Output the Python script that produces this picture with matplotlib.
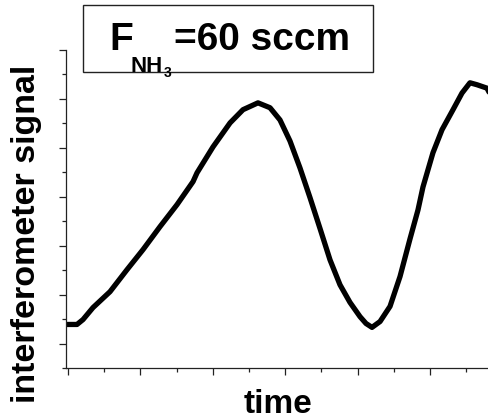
import matplotlib
matplotlib.use("Agg")
import matplotlib.pyplot as plt
from matplotlib.patches import Rectangle
from matplotlib.ticker import MultipleLocator, NullFormatter

plt.rcParams['font.family'] = ['Liberation Sans', 'DejaVu Sans']

# interferometer trace (arbitrary units)
time = [-0.028, 0.124, 0.207, 0.345, 0.58, 0.815, 1.036, 1.271, 1.506, 1.727,
        1.782, 2.003, 2.238, 2.417, 2.624, 2.79, 2.928, 3.066, 3.204, 3.343,
        3.481, 3.619, 3.757, 3.895, 4.033, 4.116, 4.199, 4.31, 4.448, 4.586,
        4.724, 4.834, 4.903, 5.041, 5.166, 5.318, 5.442, 5.552, 5.649, 5.787,
        5.815]
signal = [0.39, 0.39, 0.49, 0.735, 1.06, 1.51, 1.92, 2.39, 2.84, 3.31,
          3.49, 4.02, 4.51, 4.78, 4.92, 4.82, 4.57, 4.14, 3.59, 2.98,
          2.35, 1.71, 1.20, 0.84, 0.55, 0.41, 0.33, 0.45, 0.76, 1.37,
          2.14, 2.73, 3.2, 3.9, 4.37, 4.78, 5.12, 5.33, 5.29, 5.22,
          5.14]

W, H = 489, 419
fig = plt.figure(figsize=(W / 100, H / 100), dpi=100)
ax = fig.add_axes([66 / W, (H - 368) / H, (W - 66) / W, (368 - 50) / H])

ax.plot(time, signal, color='black', lw=3.8, solid_capstyle='round',
        solid_joinstyle='round')

ax.set_xlim(-0.028, 5.815)
ax.set_ylim(-0.5, 6.0)
ax.xaxis.set_major_locator(MultipleLocator(1))
ax.xaxis.set_minor_locator(MultipleLocator(0.5))
ax.yaxis.set_major_locator(MultipleLocator(1))
ax.yaxis.set_minor_locator(MultipleLocator(0.5))
ax.xaxis.set_major_formatter(NullFormatter())
ax.yaxis.set_major_formatter(NullFormatter())
ax.tick_params(which='major', length=5, width=0.9, color='#222222', direction='out')
ax.tick_params(which='minor', length=3, width=0.9, color='#222222', direction='out')
for s in ('top', 'right'):
    ax.spines[s].set_visible(False)
for s in ('left', 'bottom'):
    ax.spines[s].set_linewidth(0.9)
    ax.spines[s].set_color('#222222')


def fx(px):
    return px / W


def fy(py):
    return (H - py) / H


# axis titles
fig.text(fx(278), fy(413), 'time', fontsize=24, fontweight='bold',
         ha='center', va='baseline')
fig.text(fx(35), fy(234), 'interferometer signal', fontsize=24.5, fontweight='bold',
         rotation=90, rotation_mode='anchor', ha='center', va='baseline')

# flow-rate label in a framed box
fig.patches.append(Rectangle((fx(83), fy(72)), fx(373) - fx(83), fy(5) - fy(72),
                             transform=fig.transFigure, fill=False,
                             edgecolor='#222222', lw=1.0))
fig.text(fx(109), fy(50), 'F', fontsize=28, fontweight='bold', va='baseline')
fig.text(fx(131), fy(72), 'NH', fontsize=16, fontweight='bold', va='baseline')
fig.text(fx(164), fy(77), '3', fontsize=10, fontweight='bold', va='baseline')
fig.text(fx(174), fy(50), '=60 sccm', fontsize=28, fontweight='bold', va='baseline')

fig.savefig('out.png', dpi=100)
